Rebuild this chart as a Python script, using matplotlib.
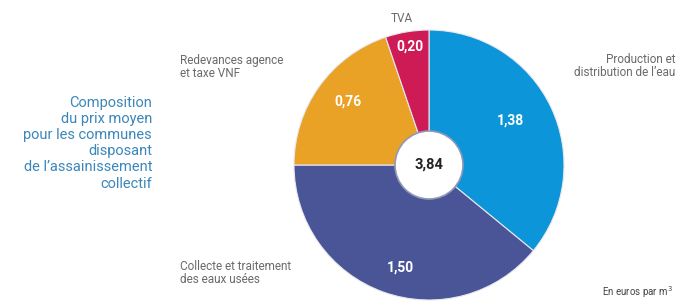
import matplotlib
matplotlib.use("Agg")
import matplotlib.pyplot as plt
from matplotlib.patches import Circle

plt.rcParams['font.family'] = ['Roboto', 'DejaVu Sans']

# Data (euros par m3)
labels = ['Production et\ndistribution de l\u2019eau', 'Collecte et traitement\ndes eaux usées',
          'Redevances agence\net taxe VNF', 'TVA']
values = [1.38, 1.50, 0.76, 0.20]
value_labels = ['1,38', '1,50', '0,76', '0,20']
colors = ['#0c95d9', '#4a5597', '#e9a126', '#cf1b55']
total_label = '3,84'

W, H = 677, 303
fig = plt.figure(figsize=(W / 100, H / 100), dpi=100)
ax = fig.add_axes([0, 0, 1, 1])

cx, cy, r = 429, H - 165, 135
ax.pie(values, colors=colors, startangle=90, counterclock=False,
       center=(cx, cy), radius=r, frame=True,
       wedgeprops=dict(edgecolor='#e8e8f0', linewidth=0.8))
ax.set_xlim(0, W)
ax.set_ylim(0, H)
ax.set_aspect('equal')
ax.axis('off')

ax.add_patch(Circle((cx, cy), 34, facecolor='white', edgecolor='#9098b8', linewidth=1.2, zorder=5))
ax.text(cx, cy, total_label, ha='center', va='center', fontsize=10.5, fontweight='bold',
        color='#222222', zorder=6)

# value labels inside wedges
val_pos = [(510, 121), (400, 268), (348, 102), (410, 47)]
for (x, y), t in zip(val_pos, value_labels):
    ax.text(x, H - y, t, ha='center', va='center', fontsize=10, fontweight='bold', color='white')

grey = '#6a6a6a'
ax.text(675, H - 66, labels[0], ha='right', va='center', fontsize=8.5, color=grey, linespacing=1.0)
ax.text(180, H - 273, labels[1], ha='left', va='center', fontsize=8.5, color=grey, linespacing=1.0)
ax.text(180, H - 67, labels[2], ha='left', va='center', fontsize=8.5, color=grey, linespacing=1.0)
ax.text(402, H - 19, labels[3], ha='center', va='center', fontsize=8.5, color=grey)
ax.text(673, H - 300, 'En euros par m$^3$', ha='right', va='bottom', fontsize=7, color='#444444')

ax.text(152, H - 143, 'Composition\ndu prix moyen\npour les communes\ndisposant\nde l\u2019assainissement\ncollectif',
        ha='right', va='center', fontsize=10.5, color='#3b87bb', linespacing=1.2, multialignment='right')

fig.savefig('out.png', dpi=100)
